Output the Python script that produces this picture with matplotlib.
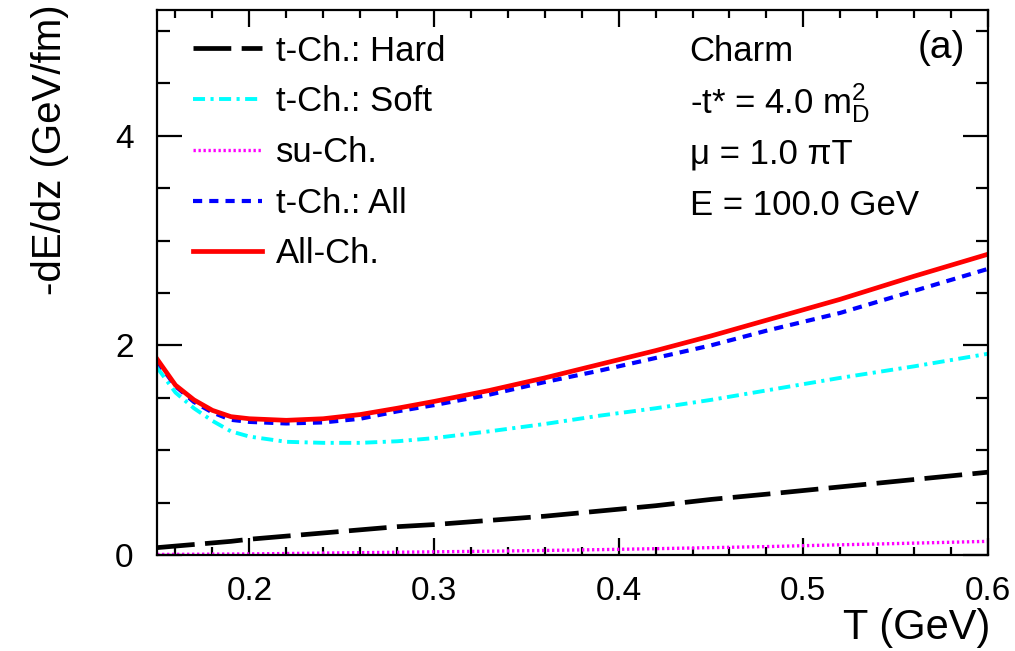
import numpy as np
import matplotlib
matplotlib.use('Agg')
import matplotlib.pyplot as plt
from matplotlib.ticker import MultipleLocator, FormatStrFormatter

plt.rcParams['font.family'] = ['Liberation Sans', 'DejaVu Sans']
plt.rcParams['mathtext.fontset'] = 'custom'
plt.rcParams['mathtext.rm'] = 'Liberation Sans'
plt.rcParams['mathtext.it'] = 'Liberation Sans:italic'

# temperature grid (GeV) and energy loss curves
T = [0.15, 0.16, 0.17, 0.18, 0.19, 0.20, 0.22, 0.24, 0.26, 0.28,
     0.30, 0.33, 0.36, 0.39, 0.42, 0.45, 0.48, 0.52, 0.56, 0.60]
t_hard = [0.07, 0.085, 0.10, 0.115, 0.13, 0.15, 0.18, 0.21, 0.24, 0.27,
          0.29, 0.33, 0.37, 0.42, 0.47, 0.53, 0.58, 0.65, 0.72, 0.79]
t_soft = [1.79, 1.55, 1.40, 1.28, 1.18, 1.13, 1.08, 1.07, 1.07, 1.085,
          1.115, 1.18, 1.25, 1.33, 1.40, 1.48, 1.57, 1.69, 1.80, 1.92]
su_ch = [0.005, 0.006, 0.007, 0.008, 0.009, 0.010, 0.014, 0.018, 0.022, 0.026,
         0.030, 0.036, 0.043, 0.051, 0.060, 0.070, 0.080, 0.097, 0.113, 0.130]
t_all = [1.85, 1.61, 1.46, 1.36, 1.29, 1.27, 1.255, 1.265, 1.30, 1.37,
         1.43, 1.53, 1.65, 1.76, 1.88, 2.00, 2.14, 2.31, 2.52, 2.73]
all_ch = [1.87, 1.62, 1.48, 1.38, 1.32, 1.30, 1.285, 1.30, 1.34, 1.40,
          1.465, 1.57, 1.69, 1.82, 1.95, 2.09, 2.24, 2.44, 2.66, 2.87]

info_lines = ['Charm', r'-t* = 4.0 m$_{\mathrm{D}}^{2}$', 'μ = 1.0 πT', 'E = 100.0 GeV']

fig = plt.figure(figsize=(10.15, 6.51), dpi=100)
ax = fig.add_axes([0.1547, 0.1475, 0.8187, 0.8371])

ax.plot(T, t_hard, color='black', lw=3.4, dashes=(8, 2.2), label='t-Ch.: Hard')
ax.plot(T, t_soft, color='#00FFFF', lw=2.8, dashes=(3.1, 1.4, 0.8, 1.4), label='t-Ch.: Soft')
ax.plot(T, su_ch, color='#FF00FF', lw=2.4, dashes=(0.7, 0.8), label='su-Ch.')
ax.plot(T, t_all, color='#0000FF', lw=3.0, dashes=(2.2, 1.7), label='t-Ch.: All')
ax.plot(T, all_ch, color='#FF0000', lw=3.4, label='All-Ch.')

ax.set_xlim(0.15, 0.6)
ax.set_ylim(0, 5.2)
ax.xaxis.set_major_locator(MultipleLocator(0.1))
ax.xaxis.set_minor_locator(MultipleLocator(0.02))
ax.xaxis.set_major_formatter(FormatStrFormatter('%.1f'))
ax.yaxis.set_major_locator(MultipleLocator(2))
ax.yaxis.set_minor_locator(MultipleLocator(0.5))
ax.yaxis.set_major_formatter(FormatStrFormatter('%g'))

ax.tick_params(axis='both', which='both', direction='in', top=True, right=True,
               labelsize=24, width=1.6)
ax.tick_params(axis='x', which='major', length=12, pad=15)
ax.tick_params(axis='x', which='minor', length=6)
ax.tick_params(axis='y', which='major', length=18, pad=17)
ax.tick_params(axis='y', which='minor', length=9)
for s in ax.spines.values():
    s.set_linewidth(1.6)

ax.set_xlabel('T (GeV)', fontsize=30, loc='right')
ax.xaxis.set_label_coords(1.003, -0.134)
ax.xaxis.label.set_va('center')
ax.set_ylabel('-dE/dz (GeV/fm)', fontsize=29, loc='top')
ax.yaxis.set_label_coords(-0.129, 1.01)
ax.yaxis.label.set_va('center')

ax.legend(loc='upper left', bbox_to_anchor=(0.043, 0.955), frameon=False,
          fontsize=25, handlelength=2.0, handletextpad=0.4, labelspacing=0.51,
          borderpad=0, borderaxespad=0)

for i, line in enumerate(info_lines):
    ax.text(0.641, 0.924 - i * 0.094, line, transform=ax.transAxes,
            fontsize=25, ha='left', va='center')
ax.text(0.972, 0.930, '(a)', transform=ax.transAxes, fontsize=28,
        ha='right', va='center')

fig.savefig('out.png', dpi=100)
